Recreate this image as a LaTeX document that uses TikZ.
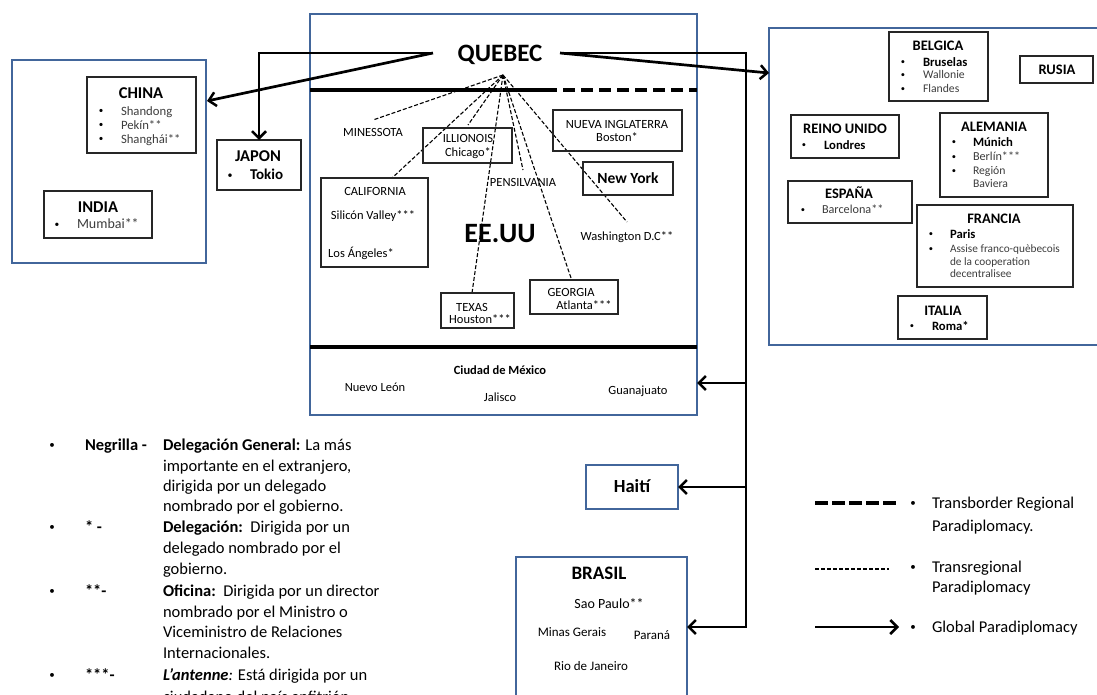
\documentclass[tikz,border=0pt]{standalone}
\usepackage{fontspec}
\setmainfont{Carlito}
\usetikzlibrary{arrows.meta}
\definecolor{boxblue}{RGB}{66,102,155}
\definecolor{itemgray}{RGB}{60,60,60}
\tikzset{
  bluebox/.style={draw=boxblue, line width=2.4pt},
  blkbox/.style={draw=black!85, line width=1.1pt},
  box/.style 2 args={anchor=north west, minimum width=#1, minimum height=#2, inner sep=0pt, outer sep=0pt},
  txt/.style={inner sep=0pt, outer sep=0pt, anchor=base},
  fs/.style={font=\fontsize{#1}{#1}\selectfont, yshift={-0.32*#1}},
  lw/.style={anchor=base west},
  gry/.style={text=itemgray},
  globline/.style={draw=black, line width=2.7pt},
  glob/.style={globline, -{Straight Barb[length=7pt,width=14pt,line width=2.5pt]}},
  tdash/.style={draw=black, line width=1.1pt, dash pattern=on 4pt off 2pt},
  bigline/.style={draw=black, line width=4pt},
  bigdash/.style={draw=black, line width=4pt, dash pattern=on 12pt off 6pt},
  legdash/.style={draw=black, line width=4pt, dash pattern=on 13pt off 4pt},
}
\begin{document}
\begin{tikzpicture}[x=1pt,y=-1pt]
\useasboundingbox (0,0) rectangle (1097,695);

% ---------------- Asia ----------------
\node[bluebox, box={194}{203}] (asia) at (12,60) {};
\node[blkbox, box={109}{76}] (chinabox) at (87,77) {};
\node[txt, fs=16.5] (china) at (141,93) {\bfseries CHINA};
\node[txt, fs=9] (chb1) at (101,111) {•};
\node[txt, fs=12.7, lw, gry] (ch1) at (121,111) {Shandong};
\node[txt, fs=9] (chb2) at (101,125) {•};
\node[txt, fs=12.7, lw, gry] (ch2) at (121,125) {Pekín**};
\node[txt, fs=9] (chb3) at (101,139) {•};
\node[txt, fs=12.7, lw, gry] (ch3) at (121,139) {Shanghái**};

\node[blkbox, box={108}{47}] (indiabox) at (44,191) {};
\node[txt, fs=16.5] (india) at (98,207) {\bfseries INDIA};
\node[txt, fs=9.5] (inb1) at (57,224) {•};
\node[txt, fs=14, lw, gry] (in1) at (77,224) {Mumbai**};

\node[blkbox, box={84}{50}] (japon) at (217,140) {};
\node[txt, fs=16.5] (japt) at (258,156) {\bfseries JAPON};
\node[txt, fs=10] (jab1) at (230,175) {•};
\node[txt, fs=15, lw] (ja1) at (250,175) {\bfseries Tokio};

% ---------------- Center (Quebec / USA / Mexico) ----------------
\node[bluebox, box={387}{401}] (usa) at (310,14) {};
\node[txt, fs=25] (quebec) at (500,54) {\bfseries QUEBEC};
\draw[bigline] (310,90) -- (545,90);
\draw[bigdash] (545,90) -- (697,90);
\draw[bigline] (310,347) -- (697,347);

\coordinate (apex) at (503,75);
\coordinate (eMin) at (373,120);
\coordinate (eIll) at (468,125);
\coordinate (eCal) at (392,178);
\coordinate (eTex) at (472,293);
\coordinate (ePen) at (523,170);
\coordinate (eGeo) at (571,278);
\coordinate (eWas) at (627,222);
\draw[tdash] (apex) -- (eMin);
\draw[tdash] (apex) -- (eIll);
\draw[tdash] (apex) -- (eCal);
\draw[tdash] (apex) -- (eTex);
\draw[tdash] (apex) -- (ePen);
\draw[tdash] (apex) -- (eGeo);
\draw[tdash] (apex) -- (eWas);

\node[txt, fs=12.5] (minn) at (373,133) {MINESSOTA};

\node[blkbox, box={89}{35}] (illbox) at (423,128) {};
\node[txt, fs=12.5] (ill1) at (468,139) {ILLIONOIS};
\node[txt, fs=12.5] (ill2) at (468,153) {Chicago*};

\node[blkbox, box={129}{41}] (nuevabox) at (553,110) {};
\node[txt, fs=12.5] (nue1) at (617,125) {NUEVA INGLATERRA};
\node[txt, fs=12.5] (nue2) at (617,138) {Boston*};

\node[blkbox, box={90}{33}] (nybox) at (583,162) {};
\node[txt, fs=15.5] (ny) at (628,179) {\bfseries New York};

\node[txt, fs=12.5] (pen) at (523,183) {PENSILVANIA};

\node[blkbox, box={107}{89}] (calbox) at (321,178) {};
\node[txt, fs=12.5] (cal1) at (375,192) {CALIFORNIA};
\node[txt, fs=12.5] (cal2) at (373,215) {Silicón Valley***};
\node[txt, fs=12.5] (cal3) at (361,253) {Los Ángeles*};

\node[txt, fs=28] (eeuu) at (500,234) {\bfseries EE.UU};
\node[txt, fs=12.5] (was) at (627,236) {Washington D.C**};

\node[blkbox, box={73}{35}] (texbox) at (441,293) {};
\node[txt, fs=12.5] (tex1) at (472,307) {TEXAS};
\node[txt, fs=12.5] (tex2) at (480,319) {Houston***};

\node[blkbox, box={88}{34}] (geobox) at (530,280) {};
\node[txt, fs=12.5] (geo1) at (571,292) {GEORGIA};
\node[txt, fs=12.5] (geo2) at (584,305) {Atlanta***};

\node[txt, fs=12.5] (cdmx) at (500,370) {\bfseries Ciudad de México};
\node[txt, fs=12.5] (nleon) at (375,387) {Nuevo León};
\node[txt, fs=12.5] (jal) at (500,397) {Jalisco};
\node[txt, fs=12.5] (gto) at (638,390) {Guanajuato};

% ---------------- Europe ----------------
\node[bluebox, box={340}{317}] (europe) at (769,28) {};

\node[blkbox, box={99}{69}] (belbox) at (889,32) {};
\node[txt, fs=14.5] (bel) at (938,46) {\bfseries BELGICA};
\node[txt, fs=8.5] (belb1) at (903,62) {•};
\node[txt, fs=12.7, lw] (bel1) at (923,62) {\bfseries Bruselas};
\node[txt, fs=8.5] (belb2) at (903,75) {•};
\node[txt, fs=11.7, lw, gry] (bel2) at (923,75) {Wallonie};
\node[txt, fs=8.5] (belb3) at (903,89) {•};
\node[txt, fs=11.7, lw, gry] (bel3) at (923,89) {Flandes};

\node[blkbox, box={73}{27}] (rusbox) at (1020,56) {};
\node[txt, fs=14.5] (rus) at (1057,70) {\bfseries RUSIA};

\node[blkbox, box={108}{43}] (reinobox) at (791,115) {};
\node[txt, fs=14.5] (reino) at (845,129) {\bfseries REINO UNIDO};
\node[txt, fs=8.5] (reb1) at (804,145) {•};
\node[txt, fs=12.7, lw] (re1) at (824,145) {\bfseries Londres};

\node[blkbox, box={108}{84}] (alebox) at (940,113) {};
\node[txt, fs=14.5] (ale) at (994,127) {\bfseries ALEMANIA};
\node[txt, fs=8.5] (aleb1) at (954,142) {•};
\node[txt, fs=12.7, lw] (ale1) at (973,142) {\bfseries Múnich};
\node[txt, fs=8.5] (aleb2) at (954,157) {•};
\node[txt, fs=12.2, lw, gry] (ale2) at (973,157) {Berlín***};
\node[txt, fs=8.5] (aleb3) at (954,171) {•};
\node[txt, fs=11.7, lw, gry] (ale3) at (973,171) {Región};
\node[txt, fs=11.7, lw, gry] (ale4) at (973,184) {Baviera};

\node[blkbox, box={124}{42}] (espbox) at (788,181) {};
\node[txt, fs=14.5] (esp) at (849,194) {\bfseries ESPAÑA};
\node[txt, fs=8.5] (espb1) at (803,210) {•};
\node[txt, fs=12.2, lw, gry] (esp1) at (822,210) {Barcelona**};

\node[blkbox, box={156}{82}] (frabox) at (917,205) {};
\node[txt, fs=14.5] (fra) at (994,219) {\bfseries FRANCIA};
\node[txt, fs=8.5] (frab1) at (931,234) {•};
\node[txt, fs=12.7, lw] (fra1) at (950,234) {\bfseries Paris};
\node[txt, fs=8.5] (frab2) at (931,249) {•};
\node[txt, fs=11.3, lw, gry] (fra2) at (950,249) {Assise franco-quèbecois};
\node[txt, fs=11.3, lw, gry] (fra3) at (950,262) {de la cooperation};
\node[txt, fs=11.3, lw, gry] (fra4) at (950,274) {decentralisee};

\node[blkbox, box={89}{43}] (itabox) at (898,296) {};
\node[txt, fs=14.5] (ita) at (943,311) {\bfseries ITALIA};
\node[txt, fs=8.5] (itab1) at (912,326) {•};
\node[txt, fs=12.7, lw] (ita1) at (932,326) {\bfseries Roma*};

% ---------------- Haiti / Brasil ----------------
\node[bluebox, box={92}{44}] (haiti) at (586,465) {};
\node[txt, fs=18.5] (hai) at (632,487) {\bfseries Haití};

\node[bluebox, box={171}{150}] (brasil) at (516,557) {};
\node[txt, fs=19] (bra) at (599,573) {\bfseries BRASIL};
\node[txt, fs=14] (bra1) at (609,604) {Sao Paulo**};
\node[txt, fs=13] (bra2) at (572,632) {Minas Gerais};
\node[txt, fs=13] (bra3) at (652,635) {Paraná};
\node[txt, fs=13] (bra4) at (591,666) {Rio de Janeiro};

% ---------------- Global arrows ----------------
\coordinate (qW) at (433,53);
\coordinate (qE) at (560,53);
\coordinate (jL) at (259,53);
\coordinate (jR) at (746,53);
\coordinate (asiaT) at (207,101);
\coordinate (eurT) at (769,73);
\coordinate (b1) at (746,383);
\coordinate (b2) at (746,487);
\coordinate (b3) at (746,627);
\draw[glob] (qW) -- (jL) -- (japon.north);
\draw[glob] (qW) -- (asiaT);
\draw[glob] (qE) -- (eurT);
\draw[glob] (qE) -- (jR) -- (b3) -- (b3 -| brasil.east);
\draw[glob] (b1) -- (b1 -| usa.east);
\draw[glob] (b2) -- (b2 -| haiti.east);

% ---------------- Legend (right) ----------------
\coordinate (lgA1) at (815,503); \coordinate (lgA2) at (899,503);
\coordinate (lgB1) at (815,569); \coordinate (lgB2) at (889,569);
\coordinate (lgC1) at (815,627); \coordinate (lgC2) at (899,627);
\draw[legdash] (lgA1) -- (lgA2);
\draw[tdash] (lgB1) -- (lgB2);
\draw[glob] (lgC1) -- (lgC2);
\node[txt, fs=11] (lgb1) at (913,503) {•};
\node[txt, fs=16.5, lw] (lgt1) at (932,503) {Transborder Regional};
\node[txt, fs=16.5, lw] (lgt2) at (932,526) {Paradiplomacy.};
\node[txt, fs=11] (lgb2) at (913,567) {•};
\node[txt, fs=16.5, lw] (lgt3) at (932,567) {Transregional};
\node[txt, fs=16.5, lw] (lgt4) at (932,587) {Paradiplomacy};
\node[txt, fs=11] (lgb3) at (913,627) {•};
\node[txt, fs=16.5, lw] (lgt5) at (932,627) {Global Paradiplomacy};

% ---------------- Legend (left) ----------------
\node[txt, fs=11] (kb1) at (52,445) {•};
\node[txt, fs=16.5, lw] (kl1) at (85,445) {\bfseries Negrilla -};
\node[txt, fs=16.5, lw] (kt1) at (163,445) {\textbf{Delegación General:} La más};
\node[txt, fs=16.5, lw] (kt2) at (163,466) {importante en el extranjero,};
\node[txt, fs=16.5, lw] (kt3) at (163,486) {dirigida por un delegado};
\node[txt, fs=16.5, lw] (kt4) at (163,506) {nombrado por el gobierno.};
\node[txt, fs=11] (kb2) at (52,527) {•};
\node[txt, fs=16.5, lw] (kl2) at (85,527) {\bfseries * -};
\node[txt, fs=16.5, lw] (kt5) at (163,527) {\textbf{Delegación:}\ \ Dirigida por un};
\node[txt, fs=16.5, lw] (kt6) at (163,548) {delegado nombrado por el};
\node[txt, fs=16.5, lw] (kt7) at (163,569) {gobierno.};
\node[txt, fs=11] (kb3) at (52,591) {•};
\node[txt, fs=16.5, lw] (kl3) at (85,591) {\bfseries **-};
\node[txt, fs=16.5, lw] (kt8) at (163,591) {\textbf{Oficina:}\ \ Dirigida por un director};
\node[txt, fs=16.5, lw] (kt9) at (163,612) {nombrado por el Ministro o};
\node[txt, fs=16.5, lw] (kt10) at (163,632) {Viceministro de Relaciones};
\node[txt, fs=16.5, lw] (kt11) at (163,653) {Internacionales.};
\node[txt, fs=11] (kb4) at (52,675) {•};
\node[txt, fs=16.5, lw] (kl4) at (85,675) {\bfseries ***-};
\node[txt, fs=16.5, lw] (kt12) at (163,675) {\textbf{\textit{L’antenne}}\textit{:} Está dirigida por un};
\node[txt, fs=16.5, lw] (kt13) at (163,697) {ciudadano del país anfitrión.};
\end{tikzpicture}
\end{document}
